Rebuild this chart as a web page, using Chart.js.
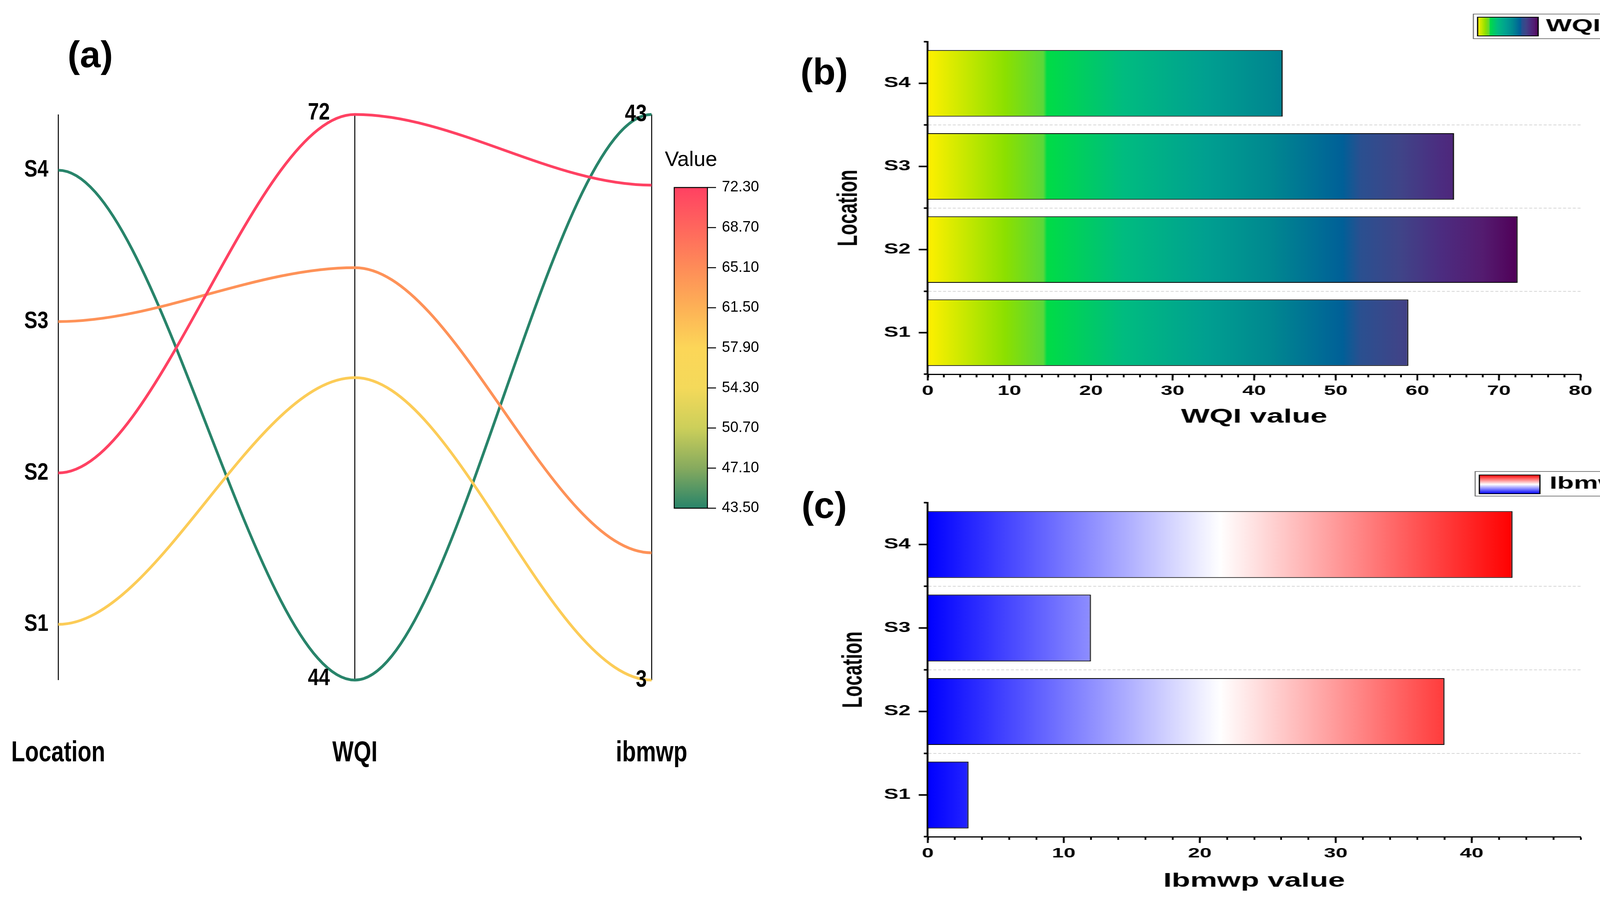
<!DOCTYPE html>
<html lang="en">
<head>
<meta charset="UTF-8">
<title>WQI e Ibmwp por localización</title>
<script src="https://cdn.jsdelivr.net/npm/chart.js"></script>
<style>
  body { margin: 0; background: #fff; width: 4229px; height: 2304px; overflow: hidden; position: relative; }
  canvas { position: absolute; }
</style>
</head>
<body>
<canvas id="parallelChart" width="4229" height="2304" style="left:0;top:0;width:4229px;height:2304px"></canvas>
<canvas id="wqiChart" width="1438" height="1150" style="left:2000px;top:0;width:2229px;height:1150px"></canvas>
<canvas id="ibmwpChart" width="1438" height="1154" style="left:2000px;top:1150px;width:2229px;height:1154px"></canvas>
<script>
// Datos
const locations = ['S1', 'S2', 'S3', 'S4'];
const wqiValues = [58.9, 72.3, 64.5, 43.5];
const ibmwpValues = [3, 38, 12, 43];
const axisNames = ['Location', 'WQI', 'ibmwp'];
const locRange = [0.632, 4.368];
const wqiRange = [43.5, 72.3];
const ibmwpRange = [3, 43];
const colorbarTicks = [72.3, 68.7, 65.1, 61.5, 57.9, 54.3, 50.7, 47.1, 43.5];
const wqiAxisMax = 80;
const ibmwpAxisMax = 48;

// Colores
const valueColors = [
  [43.5, '#28846a'], [47.1, '#86aa5e'], [50.7, '#cccf5a'], [54.3, '#f4d95a'], [57.9, '#fcd658'],
  [61.5, '#fdb156'], [65.1, '#fe8c58'], [68.7, '#ff665d'], [72.3, '#ff4162']
];
const wqiStops = [
  [0, '#fff000'], [0.131, '#8ce000'], [0.196, '#5ad83a'], [0.202, '#00dc46'], [0.332, '#00bc80'],
  [0.47, '#00a090'], [0.58, '#008890'], [0.703, '#006098'], [0.733, '#2a5090'], [0.802, '#404488'],
  [0.871, '#4c2c80'], [0.94, '#541c70'], [1, '#500058']
];
const ibmwpStops = [[0, '#0000ff'], [0.5, '#ffffff'], [1, '#ff0000']];

const FONT = '"Liberation Sans", Arial, sans-serif';
Chart.defaults.font.family = FONT;
Chart.defaults.color = '#000';

function frac(v, range) {
  return (v - range[0]) / (range[1] - range[0]);
}

function hexToRgb(h) {
  const n = parseInt(h.slice(1), 16);
  return [n >> 16, (n >> 8) & 255, n & 255];
}

function colorAt(stops, v) {
  for (let i = 1; i < stops.length; i++) {
    if (v <= stops[i][0]) {
      const t = (v - stops[i - 1][0]) / (stops[i][0] - stops[i - 1][0]);
      const a = hexToRgb(stops[i - 1][1]), b = hexToRgb(stops[i][1]);
      return 'rgb(' + a.map((x, k) => Math.round(x + (b[k] - x) * t)).join(',') + ')';
    }
  }
  return stops[stops.length - 1][1];
}

function narrowText(ctx, text, x, y, size, squeeze, align) {
  ctx.save();
  ctx.translate(x, y);
  ctx.scale(squeeze, 1);
  ctx.font = 'bold ' + size + 'px ' + FONT;
  ctx.textAlign = align;
  ctx.textBaseline = 'middle';
  ctx.fillStyle = '#000';
  ctx.fillText(text, 0, 0);
  ctx.restore();
}

function line(ctx, x1, y1, x2, y2) {
  ctx.beginPath();
  ctx.moveTo(x1, y1);
  ctx.lineTo(x2, y2);
  ctx.stroke();
}

// (a) curvas con tangente horizontal en cada eje
const flatCurves = {
  id: 'flatCurves',
  beforeDatasetDraw(chart, args) {
    const meta = args.meta;
    if (!meta.dataset || !meta.dataset.updateControlPoints) return;
    meta.dataset.updateControlPoints(chart.chartArea, 'x');
    const pts = meta.data;
    pts.forEach((p, i) => {
      const prev = pts[i - 1], next = pts[i + 1];
      p.cp1x = prev ? p.x - (p.x - prev.x) / 3 : p.x;
      p.cp1y = p.y;
      p.cp2x = next ? p.x + (next.x - p.x) / 3 : p.x;
      p.cp2y = p.y;
    });
  }
};

// (a) etiquetas de los ejes, barra de color y letras de los paneles
const parallelText = {
  id: 'parallelText',
  afterDraw(chart) {
    const {ctx, chartArea, scales: {x, y}} = chart;
    const xLoc = x.getPixelForValue(0), xWqi = x.getPixelForValue(1), xIb = x.getPixelForValue(2);

    locations.forEach((name, i) => {
      narrowText(ctx, name, xLoc - 25, y.getPixelForValue(frac(i + 1, locRange)), 61, 0.83, 'right');
    });
    wqiRange.forEach(v => {
      narrowText(ctx, String(Math.round(v)), xWqi - 64, y.getPixelForValue(frac(v, wqiRange)) - 4, 61, 0.83, 'right');
    });
    ibmwpRange.forEach(v => {
      narrowText(ctx, String(v), xIb - 12, y.getPixelForValue(frac(v, ibmwpRange)), 61, 0.83, 'right');
    });
    axisNames.forEach((name, i) => {
      narrowText(ctx, name, x.getPixelForValue(i), chartArea.bottom + 188, 74, 0.78, 'center');
    });

    // barra de color "Value"
    const bar = {left: 1726, right: 1811, top: 480, bottom: 1301};
    const g = ctx.createLinearGradient(0, bar.bottom, 0, bar.top);
    valueColors.forEach(([v, c]) => g.addColorStop(frac(v, wqiRange), c));
    ctx.save();
    ctx.fillStyle = g;
    ctx.fillRect(bar.left, bar.top, bar.right - bar.left, bar.bottom - bar.top);
    ctx.strokeStyle = '#000';
    ctx.lineWidth = 2.5;
    ctx.strokeRect(bar.left, bar.top, bar.right - bar.left, bar.bottom - bar.top);
    ctx.font = '38px ' + FONT;
    ctx.fillStyle = '#000';
    ctx.textBaseline = 'middle';
    ctx.textAlign = 'left';
    colorbarTicks.forEach(v => {
      const py = bar.bottom - frac(v, wqiRange) * (bar.bottom - bar.top);
      line(ctx, bar.right, py, bar.right + 22, py);
      ctx.fillText(v.toFixed(2), bar.right + 37, py);
    });
    ctx.font = '54px ' + FONT;
    ctx.textAlign = 'center';
    ctx.fillText('Value', 1769, 410);

    // letras de los paneles
    ctx.font = 'bold 95px ' + FONT;
    ctx.fillText('(a)', 231, 146);
    ctx.fillText('(b)', 2110, 190);
    ctx.fillText('(c)', 2110, 1300);
    ctx.restore();
  }
};

new Chart(document.getElementById('parallelChart'), {
  type: 'line',
  data: {
    datasets: locations.map((name, i) => ({
      label: name,
      data: [
        {x: 0, y: frac(i + 1, locRange)},
        {x: 1, y: frac(wqiValues[i], wqiRange)},
        {x: 2, y: frac(ibmwpValues[i], ibmwpRange)}
      ],
      borderColor: colorAt(valueColors, wqiValues[i]),
      borderWidth: 7,
      pointRadius: 0,
      tension: 0.4,
      fill: false,
      clip: false
    }))
  },
  options: {
    responsive: false,
    animation: false,
    devicePixelRatio: 1,
    layout: {padding: {left: 149, right: 2561, top: 293, bottom: 563}},
    plugins: {legend: {display: false}, tooltip: {enabled: false}},
    scales: {
      x: {
        type: 'linear', min: 0, max: 2,
        afterFit: s => { s.height = 0; },
        ticks: {display: false, stepSize: 1},
        grid: {color: '#000', lineWidth: 2.5, drawTicks: false},
        border: {display: false}
      },
      y: {display: false, min: 0, max: 1}
    }
  },
  plugins: [flatCurves, parallelText]
});

// (b) y (c) marcas mayores y leyenda con degradado
function axisDecor(cfg) {
  return {
    id: 'axisDecor',
    afterDraw(chart) {
      const {ctx, chartArea, scales: {x, y}} = chart;
      ctx.save();
      ctx.strokeStyle = '#000';
      ctx.lineWidth = 3;
      x.ticks.forEach(t => {
        if (t.value % 10 === 0) {
          const px = x.getPixelForValue(t.value);
          line(ctx, px, chartArea.bottom, px, chartArea.bottom + 16);
        }
      });
      ctx.lineWidth = 4;
      locations.forEach((name, i) => {
        const py = y.getPixelForValue(i);
        line(ctx, chartArea.left - 15, py, chartArea.left, py);
      });

      const [bx, by, bw, bh] = cfg.box;
      ctx.strokeStyle = '#555';
      ctx.lineWidth = 1.5;
      ctx.strokeRect(bx, by, bw, bh);
      const [sx, sy, sw, sh] = cfg.swatch;
      const g = cfg.vertical ? ctx.createLinearGradient(0, sy + sh, 0, sy) : ctx.createLinearGradient(sx, 0, sx + sw, 0);
      cfg.stops.forEach(([f, c]) => g.addColorStop(f, c));
      ctx.fillStyle = g;
      ctx.fillRect(sx, sy, sw, sh);
      ctx.strokeStyle = '#000';
      ctx.lineWidth = 2;
      ctx.strokeRect(sx, sy, sw, sh);
      ctx.font = 'bold 45px ' + FONT;
      ctx.fillStyle = '#000';
      ctx.textAlign = 'left';
      ctx.textBaseline = 'middle';
      ctx.fillText(cfg.legendText, cfg.textX, by + bh / 2);
      ctx.restore();
    }
  };
}

function barChart(id, values, cfg) {
  const gradMax = Math.max(...values);
  return new Chart(document.getElementById(id), {
    type: 'bar',
    data: {
      labels: locations,
      datasets: [{
        label: cfg.legendText,
        data: values,
        backgroundColor: c => {
          const xs = c.chart.scales.x;
          if (!xs || !c.chart.chartArea) return '#888';
          const x0 = xs.getPixelForValue(0), x1 = xs.getPixelForValue(gradMax);
          if (!Number.isFinite(x0) || !Number.isFinite(x1)) return '#888';
          const g = c.chart.ctx.createLinearGradient(x0, 0, x1, 0);
          cfg.stops.forEach(([f, col]) => g.addColorStop(f, col));
          return g;
        },
        borderColor: '#000',
        borderWidth: 2,
        barPercentage: 0.8,
        categoryPercentage: 1
      }]
    },
    options: {
      indexAxis: 'y',
      responsive: false,
      animation: false,
      devicePixelRatio: 1,
      layout: {padding: {top: cfg.top, right: 118, left: 0, bottom: 0}},
      plugins: {legend: {display: false}, tooltip: {enabled: false}},
      scales: {
        x: {
          type: 'linear', min: 0, max: cfg.max,
          afterFit: s => { s.height = cfg.xAxisH; },
          ticks: {
            stepSize: 2, maxTicksLimit: 100, autoSkip: false, maxRotation: 0, padding: 14,
            font: {size: 35, weight: 'bold'},
            callback: v => (v % 10 === 0 ? String(v) : '')
          },
          grid: {drawOnChartArea: false, tickLength: 8, tickWidth: 3, tickColor: '#000', color: '#000'},
          border: {color: '#000', width: 3},
          title: {display: true, text: cfg.xTitle, font: {size: 50, weight: 'bold'}, padding: {top: 0, bottom: cfg.xTitlePad}}
        },
        y: {
          type: 'category', reverse: true, offset: true,
          afterFit: s => { s.width = 242; },
          ticks: {padding: 22, font: {size: 36, weight: 'bold'}},
          grid: {
            offset: true,
            color: c => (c.index === undefined || c.index === 0 ? 'rgba(0,0,0,0)' : '#c8c8c8'),
            lineWidth: 1.5,
            borderDash: [5, 3],
            tickLength: 6.5, tickWidth: 4, tickColor: '#000', tickBorderDash: []
          },
          border: {color: '#000', width: 3.2, dash: [5, 3]},
          title: {display: true, text: 'Location', font: {size: 47, weight: 'bold'}, padding: {top: cfg.yTitlePad, bottom: 0}}
        }
      }
    },
    plugins: [axisDecor(cfg)]
  });
}

barChart('wqiChart', wqiValues, {
  max: wqiAxisMax, stops: wqiStops, xTitle: 'WQI value', legendText: 'WQI',
  top: 107, xAxisH: 192, xTitlePad: 52, yTitlePad: 84,
  box: [1143, 36, 217, 63], swatch: [1150, 44, 100, 48], textX: 1263, vertical: false
});

barChart('ibmwpChart', ibmwpValues, {
  max: ibmwpAxisMax, stops: ibmwpStops, xTitle: 'Ibmwp value', legendText: 'Ibmwp',
  top: 137, xAxisH: 162, xTitlePad: 18, yTitlePad: 92,
  box: [1146, 57, 270, 63], swatch: [1153, 66, 100, 48], textX: 1269, vertical: true
});
</script>
</body>
</html>
